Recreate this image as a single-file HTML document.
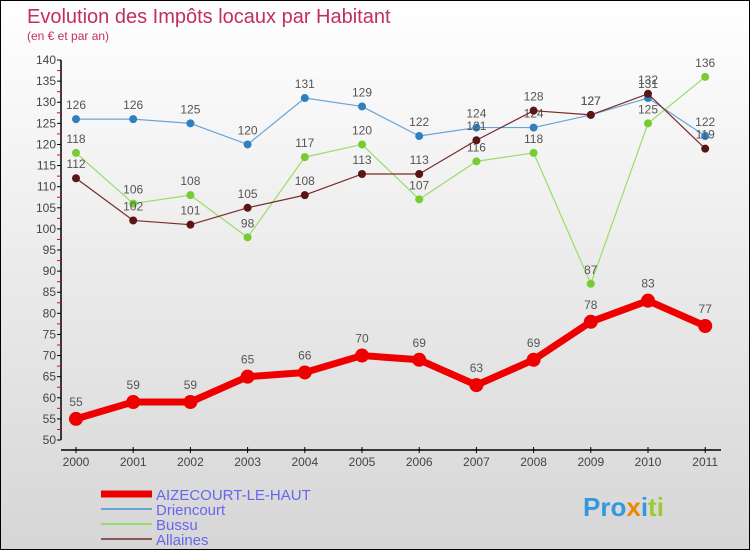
<!DOCTYPE html>
<html><head><meta charset="utf-8"><style>
body{margin:0}
#c{position:relative;width:748px;height:548px;border:1px solid #000;background:linear-gradient(#ffffff,#d6d6d6);font-family:"Liberation Sans",sans-serif;overflow:hidden}
svg{position:absolute;left:0;top:0}
</style></head><body>
<div id="c">
<svg id="s" width="748" height="548">
<text x="26" y="22" font-size="20" fill="#c0305a">Evolution des Impôts locaux par Habitant</text>
<text x="26" y="39" font-size="12" fill="#c0305a">(en € et par an)</text>
</svg>
</div>
<script>
const years=["2000","2001","2002","2003","2004","2005","2006","2007","2008","2009","2010","2011"];
const aizecourt=[55,59,59,65,66,70,69,63,69,78,83,77];
const driencourt=[126,126,125,120,131,129,122,124,124,127,131,122];
const bussu=[118,106,108,98,117,120,107,116,118,87,125,136];
const allaines=[112,102,101,105,108,113,113,121,128,127,132,119];
const yTicks=[50,55,60,65,70,75,80,85,90,95,100,105,110,115,120,125,130,135,140];
const svg=document.getElementById('s');const NS='http://www.w3.org/2000/svg';
function X(i){return 75+i*57.2}
function Y(v){return 439-(v-50)*4.222}
function el(t,a,p){const e=document.createElementNS(NS,t);for(const k in a)e.setAttribute(k,a[k]);(p||svg).appendChild(e);return e}
let ax=el('line',{x1:60,y1:Y(140),x2:60,y2:Y(50),stroke:'#000','stroke-width':1.5});


yTicks.forEach(v=>{el('line',{x1:56,x2:60,y1:Y(v),y2:Y(v),stroke:'#000'});
 if(v<140)el('line',{x1:56,x2:60,y1:Y(v+2.5),y2:Y(v+2.5),stroke:'#e00'});
 const t=el('text',{x:55,y:Y(v)+4,'text-anchor':'end','font-size':12,fill:'#444'});t.textContent=v;
 
 });
let xa=el('line',{x1:60,y1:449,x2:720,y2:449,stroke:'#000','stroke-width':1.5});


years.forEach((y,i)=>{el('line',{x1:X(i),x2:X(i),y1:446,y2:452,stroke:'#000'});
 const t=el('text',{x:X(i),y:465,'text-anchor':'middle','font-size':12,fill:'#444'});t.textContent=y;
 
 });
function series(data,color,dot,w,r,name){
 const g=el('g',{});
 
 
 el('polyline',{points:data.map((v,i)=>X(i)+','+Y(v)).join(' '),fill:'none',stroke:color,'stroke-width':w,'stroke-linejoin':'round'},g);
 data.forEach((v,i)=>{const c=el('circle',{cx:X(i),cy:Y(v),r:r,fill:dot},g);
  
  
  const t=el('text',{x:X(i),y:Y(v)-(r+6),'text-anchor':'middle','font-size':12,fill:'#555'},g);t.textContent=v;
  
  });
}
series(driencourt,'#6aa4d8','#2f80c0',1.2,4,'series-driencourt');
series(bussu,'#99dd66','#77cc33',1.2,4,'series-bussu');
series(allaines,'#7a2a2a','#5a1515',1.2,4,'series-allaines');
series(aizecourt,'#ee0000','#ee0000',7,7,'series-aizecourt');
const leg=[['AIZECOURT-LE-HAUT','#ee0000',7],['Driencourt','#6aa4d8',2],['Bussu','#99dd66',2],['Allaines','#8a5555',2]];
leg.forEach((l,i)=>{const y=493+i*15;const g=el('g',{});
 
 
 el('line',{x1:100,x2:151,y1:y,y2:y,stroke:l[1],'stroke-width':l[2]},g);
 const t=el('text',{x:155,y:y+6,'font-size':15,fill:'#6666ee'},g);t.textContent=l[0];});
const lg=el('text',{x:582,y:515,'font-size':26,'font-weight':'bold',fill:'#3399dd'});


lg.innerHTML='<tspan fill="#3399dd">Pro</tspan><tspan fill="#ee8800">x</tspan><tspan fill="#3399dd">i</tspan><tspan fill="#99cc33">ti</tspan>';
</script>
</body></html>
